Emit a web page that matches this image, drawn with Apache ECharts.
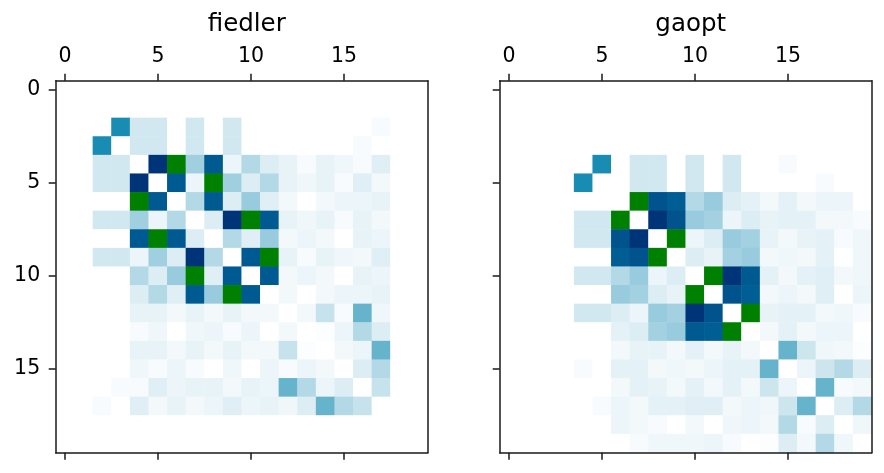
<!DOCTYPE html>
<html>
<head>
<meta charset="utf-8">
<script src="https://cdn.jsdelivr.net/npm/echarts@6/dist/echarts.min.js"></script>
<style>
  html, body { margin: 0; padding: 0; background: #fff; }
  #chart { width: 884px; height: 473px; }
</style>
</head>
<body>
<div id="chart"></div>
<script>
// row/column indices of the matrix
const cells = ['0','1','2','3','4','5','6','7','8','9','10','11','12','13','14','15','16','17','18','19']
const titles = ['fiedler', 'gaopt']

// fiedler ordering, row by row
const fiedler = [
  [0,0,0,0,0,0,0,0,0,0,0,0,0,0,0,0,0,0,0,0],
  [0,0,0,0,0,0,0,0,0,0,0,0,0,0,0,0,0,0,0,0],
  [0,0,0,0.3,0.06,0.06,0,0.06,0,0.06,0,0,0,0,0,0,0,0.01,0,0],
  [0,0,0.3,0,0.06,0.06,0,0.06,0,0.06,0,0,0,0,0,0,0.01,0,0,0],
  [0,0,0.06,0.06,0,0.53,1,0.125,0.43,0.025,0.1,0.045,0.03,0.01,0.03,0.02,0.01,0.04,0,0],
  [0,0,0.06,0.06,0.53,0,0.43,0.025,1,0.125,0.045,0.1,0.03,0.02,0.03,0.01,0.04,0.015,0,0],
  [0,0,0,0,1,0.43,0,0.1,0.43,0.045,0.135,0.04,0.015,0,0.015,0.025,0.025,0.03,0,0],
  [0,0,0.06,0.06,0.125,0.025,0.1,0,0.045,0.53,1,0.43,0.03,0.02,0.03,0.01,0.03,0.015,0,0],
  [0,0,0,0,0.43,1,0.43,0.045,0,0.1,0.04,0.135,0.015,0.025,0.015,0,0.03,0.025,0,0],
  [0,0,0.06,0.06,0.025,0.125,0.045,0.53,0.1,0,0.43,1,0.03,0.01,0.03,0.02,0.015,0.04,0,0],
  [0,0,0,0,0.1,0.045,0.135,1,0.04,0.43,0,0.43,0.015,0.025,0.015,0,0.03,0.025,0,0],
  [0,0,0,0,0.045,0.1,0.04,0.43,0.135,1,0.43,0,0.015,0,0.015,0.025,0.025,0.03,0,0],
  [0,0,0,0,0.03,0.03,0.015,0.03,0.015,0.03,0.015,0.015,0,0.015,0.075,0.01,0.2,0.02,0,0],
  [0,0,0,0,0.01,0.02,0,0.02,0.025,0.01,0.025,0,0.015,0,0.005,0.025,0.1,0.045,0,0],
  [0,0,0,0,0.03,0.03,0.015,0.03,0.015,0.03,0.015,0.015,0.075,0.005,0,0.015,0.025,0.2,0,0],
  [0,0,0,0,0.02,0.01,0.025,0.01,0,0.02,0,0.025,0.01,0.025,0.015,0,0.045,0.1,0,0],
  [0,0,0,0.01,0.01,0.04,0.025,0.03,0.03,0.015,0.03,0.025,0.2,0.1,0.025,0.045,0,0.075,0,0],
  [0,0,0.01,0,0.04,0.015,0.03,0.015,0.025,0.04,0.025,0.03,0.02,0.045,0.2,0.1,0.075,0,0,0],
  [0,0,0,0,0,0,0,0,0,0,0,0,0,0,0,0,0,0,0,0],
  [0,0,0,0,0,0,0,0,0,0,0,0,0,0,0,0,0,0,0,0]
]

// gaopt ordering, row by row
const gaopt = [
  [0,0,0,0,0,0,0,0,0,0,0,0,0,0,0,0,0,0,0,0],
  [0,0,0,0,0,0,0,0,0,0,0,0,0,0,0,0,0,0,0,0],
  [0,0,0,0,0,0,0,0,0,0,0,0,0,0,0,0,0,0,0,0],
  [0,0,0,0,0,0,0,0,0,0,0,0,0,0,0,0,0,0,0,0],
  [0,0,0,0,0,0.3,0,0.06,0.06,0,0.06,0,0.06,0,0,0.01,0,0,0,0],
  [0,0,0,0,0.3,0,0,0.06,0.06,0,0.06,0,0.06,0,0,0,0,0.01,0,0],
  [0,0,0,0,0,0,0,1,0.45,0.42,0.1,0.135,0.045,0.035,0.015,0.035,0.015,0.025,0.025,0],
  [0,0,0,0,0.06,0.06,1,0,0.53,0.45,0.135,0.12,0.025,0.045,0.03,0.035,0.035,0.015,0.015,0.01],
  [0,0,0,0,0.06,0.06,0.45,0.53,0,1,0.025,0.045,0.135,0.12,0.03,0.015,0.03,0.035,0.01,0.02],
  [0,0,0,0,0,0,0.42,0.45,1,0,0.045,0.03,0.12,0.135,0.015,0.02,0.015,0.035,0,0.02],
  [0,0,0,0,0.06,0.06,0.1,0.135,0.025,0.045,0,1,0.53,0.43,0.035,0.015,0.035,0.04,0.015,0.02],
  [0,0,0,0,0,0,0.135,0.12,0.045,0.03,1,0,0.45,0.42,0.015,0.025,0.015,0.04,0,0.025],
  [0,0,0,0,0.06,0.06,0.045,0.025,0.135,0.12,0.53,0.45,0,1,0.03,0.035,0.035,0.015,0.02,0.01],
  [0,0,0,0,0,0,0.035,0.045,0.12,0.135,0.43,0.42,1,0,0.015,0.035,0.015,0.025,0.025,0],
  [0,0,0,0,0,0,0.015,0.03,0.03,0.015,0.035,0.015,0.03,0.015,0,0.2,0.065,0.02,0.015,0.005],
  [0,0,0,0,0.01,0,0.035,0.035,0.015,0.02,0.015,0.025,0.035,0.035,0.2,0,0.025,0.065,0.1,0.045],
  [0,0,0,0,0,0,0.015,0.035,0.03,0.015,0.035,0.015,0.035,0.015,0.065,0.025,0,0.2,0.01,0.015],
  [0,0,0,0,0,0.01,0.025,0.015,0.035,0.035,0.04,0.04,0.015,0.025,0.02,0.065,0.2,0,0.045,0.1],
  [0,0,0,0,0,0,0.025,0.015,0.01,0,0.015,0,0.02,0.025,0.015,0.1,0.01,0.045,0,0.02],
  [0,0,0,0,0,0,0,0.01,0.02,0.02,0.02,0.025,0.01,0,0.005,0.045,0.015,0.1,0.02,0]
]

// matplotlib "ocean_r" colormap
const clamp = (v) => Math.max(0, Math.min(1, v))
function oceanR(v) {
  const x = 1 - v
  const r = clamp(3 * x - 2)
  const g = clamp(Math.abs((3 * x - 1) / 2))
  const b = clamp(x)
  return 'rgb(' + Math.round(r * 255) + ',' + Math.round(g * 255) + ',' + Math.round(b * 255) + ')'
}
const cmap = []
for (let k = 0; k <= 30; k++) cmap.push(oceanR(k / 30))

const toCells = (m) => {
  const out = []
  m.forEach((row, r) => row.forEach((v, c) => out.push([c, r, v])))
  return out
}

const font = 'DejaVu Sans'
const lineColor = '#1a1a1a'
const gridLeft = [55.7, 499.7]
const side = 372
const gridTop = 80.7

const xAxes = []
const yAxes = []
const grids = []
const series = []
const titleList = []

gridLeft.forEach((left, i) => {
  grids.push({
    left: left, top: gridTop, width: side, height: side,
    show: false, containLabel: false,
  })
  titleList.push({
    text: titles[i],
    left: left + side / 2,
    top: 7,
    textAlign: 'center',
    textStyle: { fontFamily: font, fontSize: 24.5, fontWeight: 'normal', color: '#000' },
  })
  const tick = { show: true, interval: 4, alignWithLabel: true, length: 7, lineStyle: { color: lineColor, width: 1.5 } }
  const line = { show: true, lineStyle: { color: lineColor, width: 1.5 } }
  xAxes.push({
    type: 'category', data: cells, gridIndex: i, position: 'top', z: 10,
    axisLine: line, axisTick: tick,
    axisLabel: { interval: 4, margin: 14, fontFamily: font, fontSize: 20.5, color: '#000' },
    splitLine: { show: false },
  })
  xAxes.push({
    type: 'category', data: cells, gridIndex: i, position: 'bottom', z: 10,
    axisLine: line, axisTick: tick,
    axisLabel: { show: false },
    splitLine: { show: false },
  })
  yAxes.push({
    type: 'category', data: cells, gridIndex: i, position: 'left', inverse: true, z: 10,
    axisLine: line, axisTick: tick,
    axisLabel: { show: i === 0, interval: 4, margin: 15.5, fontFamily: font, fontSize: 20.5, color: '#000' },
    splitLine: { show: false },
  })
  yAxes.push({
    type: 'category', data: cells, gridIndex: i, position: 'right', inverse: true, z: 10,
    axisLine: line, axisTick: { show: false }, axisLabel: { show: false },
    splitLine: { show: false },
  })
  series.push({
    type: 'heatmap',
    xAxisIndex: i * 2,
    yAxisIndex: i * 2,
    data: toCells(i === 0 ? fiedler : gaopt),
    itemStyle: { borderWidth: 0 },
    emphasis: { disabled: true },
    progressive: 0,
  })
})

const myChart = echarts.init(document.getElementById('chart'), null, { renderer: 'canvas' })
myChart.setOption({
  animation: false,
  backgroundColor: '#fff',
  title: titleList,
  grid: grids,
  xAxis: xAxes,
  yAxis: yAxes,
  visualMap: {
    type: 'continuous',
    show: false,
    min: 0,
    max: 1,
    seriesIndex: [0, 1],
    dimension: 2,
    inRange: { color: cmap },
  },
  series: series,
})
</script>
</body>
</html>
